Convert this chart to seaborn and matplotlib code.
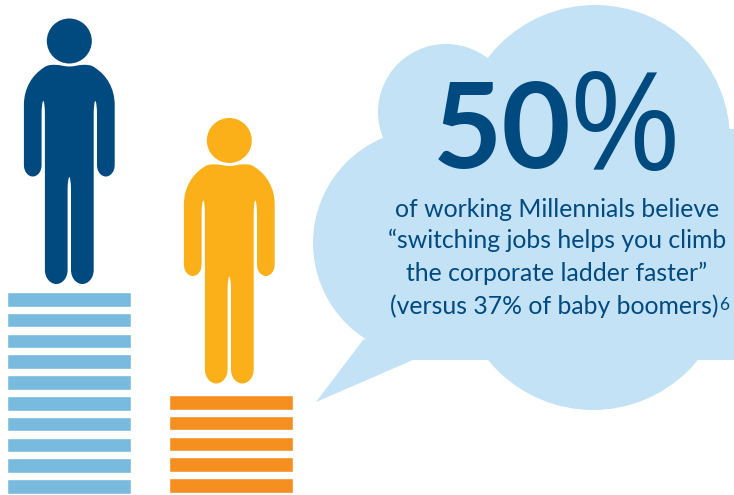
import matplotlib
matplotlib.use("Agg")
import matplotlib.pyplot as plt
from matplotlib.patches import Circle, PathPatch, Polygon, Rectangle
from matplotlib.path import Path
import pandas as pd
import seaborn as sns

# Stripes under each figure
millennial_stripes = list(range(10))
boomer_stripes = list(range(5))

headline_digits = "50"
headline_sign = "%"
body_lines = [
    "of working Millennials believe",
    "“switching jobs helps you climb",
    "the corporate ladder faster”",
    "(versus 37% of baby boomers)",
]
footnote_mark = "6"

NAVY = "#004A80"
AMBER = "#FBB01A"
SKY = "#78BBDE"
ORANGE = "#F58F20"
CLOUD = "#C3E2F5"
W, H = 734, 495

sns.set_theme(style="white")
plt.rcParams["font.family"] = ["Lato", "DejaVu Sans"]

fig = plt.figure(figsize=(W / 100, H / 100), dpi=100)
canvas = fig.add_axes([0, 0, 1, 1])
canvas.set_xlim(0, W)
canvas.set_ylim(H, 0)
canvas.axis("off")


def right_half():
    """Right half of the standing figure, x relative to its centre line."""
    return [
        (Path.MOVETO, [(0, 66.5)]),
        (Path.CURVE4, [(5, 66.5), (9, 64.8), (15, 64.8)]),
        (Path.CURVE4, [(20, 64.8), (23, 65.5), (26, 68)]),
        (Path.CURVE4, [(37, 75), (45.4, 88), (45.4, 105)]),
        (Path.LINETO, [(45.4, 165)]),
        (Path.CURVE4, [(45.4, 172), (41, 176.5), (36.6, 176.5)]),
        (Path.CURVE4, [(32, 176.5), (27.7, 172), (27.7, 165)]),
        (Path.LINETO, [(27.7, 115)]),
        (Path.CURVE4, [(27.7, 108), (27, 101), (26, 101)]),
        (Path.CURVE4, [(25, 101), (24.4, 108), (24.4, 115)]),
        (Path.LINETO, [(24.4, 270)]),
        (Path.CURVE4, [(24.4, 278), (19, 284), (13, 284)]),
        (Path.CURVE4, [(7, 284), (1.7, 278), (1.7, 270)]),
        (Path.LINETO, [(1.7, 190)]),
        (Path.CURVE4, [(1.7, 183), (0.8, 177), (0, 177)]),
    ]


def person_path(cx, dy):
    verts, codes = [], []
    for code, pts in right_half():
        verts += pts
        codes += [code] * len(pts)
    # Mirror the outline back up the left side
    mirrored = [(-x, y) for x, y in reversed(verts[:-1])]
    seg_codes = list(reversed(codes[1:]))
    verts += mirrored
    codes += seg_codes
    return Path([(x + cx, y + dy) for x, y in verts], codes)


def draw_person(cx, dy, color):
    canvas.add_patch(Circle((cx, 41 + dy), 22.5, fc=color, ec="none"))
    canvas.add_patch(PathPatch(person_path(cx, dy), fc=color, ec="none"))


draw_person(69.3, 0, NAVY)
draw_person(229.3, 99.5, AMBER)


def draw_stripes(stripes, color, left, right, top, bottom):
    ax = fig.add_axes([left / W, 1 - bottom / H, (right - left) / W, (bottom - top) / H])
    frame = pd.DataFrame({"stripe": stripes, "span": [1] * len(stripes)})
    sns.barplot(data=frame, y="stripe", x="span", orient="h", color=color,
                saturation=1, width=0.7, ax=ax)
    ax.set_xlim(0, 1)
    ax.axis("off")
    ax.patch.set_alpha(0)


draw_stripes(millennial_stripes, SKY, 7.2, 131, 289.0, 496.8)
draw_stripes(boomer_stripes, ORANGE, 169.2, 293, 392.0, 495.8)

# Speech bubble assembled from overlapping shapes
for centre, radius in [((595, 140), 135), ((446, 112), 68), ((427, 243), 114), ((593, 275), 135)]:
    canvas.add_patch(Circle(centre, radius, fc=CLOUD, ec="none"))
canvas.add_patch(Rectangle((413, 129), W - 413, 231, fc=CLOUD, ec="none"))
canvas.add_patch(Polygon([(363, 340), (316, 402), (413, 360), (450, 300)], fc=CLOUD, ec="none"))

canvas.text(433, 168, headline_digits, fontsize=86, fontweight="bold", color=NAVY,
            ha="left", va="baseline")
canvas.text(568, 170, headline_sign, fontsize=98, fontweight="normal", color=NAVY,
            family="Open Sans", ha="left", va="baseline")

for text, baseline in zip(body_lines[:3], [217, 248, 281]):
    canvas.text(557, baseline, text, fontsize=17.8, color=NAVY, ha="center", va="baseline")
canvas.text(390, 314, body_lines[3], fontsize=17.8, color=NAVY, ha="left", va="baseline")
canvas.text(719, 310, footnote_mark, fontsize=12.5, color=NAVY, ha="left", va="baseline")

fig.savefig("out.png", dpi=100)
